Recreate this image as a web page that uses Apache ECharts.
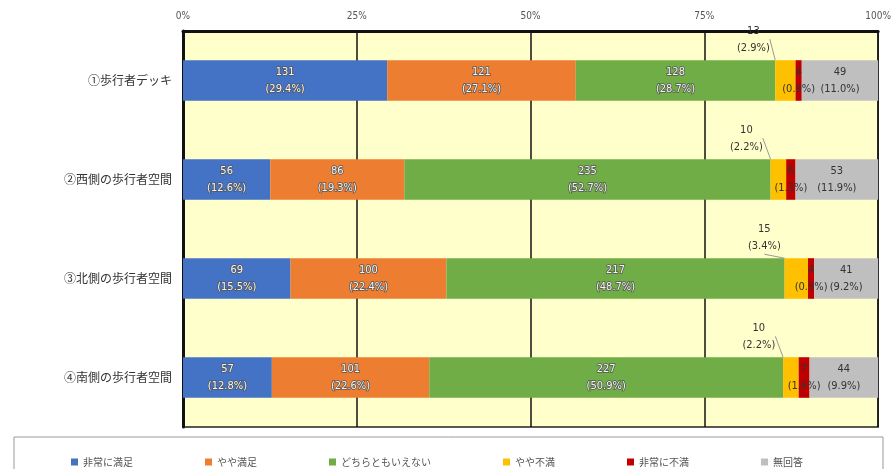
<!DOCTYPE html>
<html>
<head>
<meta charset="utf-8">
<script src="https://cdn.jsdelivr.net/npm/echarts@6/dist/echarts.min.js"></script>
<style>
  html, body { margin: 0; background: #fff; }
  #chart { width: 894px; height: 469px; }
</style>
</head>
<body>
<div id="chart"></div>
<script>
const categories = ['①歩行者デッキ', '②西側の歩行者空間', '③北側の歩行者空間', '④南側の歩行者空間'];
const seriesNames = ['非常に満足', 'やや満足', 'どちらともいえない', 'やや不満', '非常に不満', '無回答'];

// counts per category (same order as categories)
const verySatisfied = [131, 56, 69, 57];
const somewhatSatisfied = [121, 86, 100, 101];
const neutral = [128, 235, 217, 227];
const somewhatDissatisfied = [13, 10, 15, 10];
const veryDissatisfied = [4, 6, 4, 7];
const noAnswer = [49, 53, 41, 44];

const xTicks = [0, 25, 50, 75, 100];

const counts = [verySatisfied, somewhatSatisfied, neutral, somewhatDissatisfied, veryDissatisfied, noAnswer];
const colors = ['#4472C4', '#ED7D31', '#70AD47', '#FFC000', '#C00000', '#BFBFBF'];
const totals = categories.map((c, i) => counts.reduce((s, arr) => s + arr[i], 0));

const labelFont = '"Liberation Sans Narrow", "DejaVu Sans Condensed", sans-serif';

const series = counts.map((arr, k) => {
  const s = {
    name: seriesNames[k],
    type: 'bar',
    stack: 'total',
    barWidth: '41%',
    itemStyle: { color: colors[k] },
    data: arr.map((v, i) => v / totals[i] * 100),
    label: {
      show: true,
      position: 'inside',
      fontFamily: labelFont,
      fontSize: 11,
      lineHeight: 17,
      color: '#333',
      formatter: (p) => {
        const v = arr[p.dataIndex];
        return v + '\n(' + (v / totals[p.dataIndex] * 100).toFixed(1) + '%)';
      }
    }
  };
  if (k < 3) {
    // light text with dark outline on the big coloured blocks
    s.label.color = '#f4f4f4';
    s.label.textBorderColor = '#555';
    s.label.textBorderWidth = 1.5;
  }
  if (k === 3) {
    s.label.position = 'top';
    s.label.distance = 4;
    s.labelLayout = { dx: -32 };
    s.labelLine = { show: true, lineStyle: { color: '#999', width: 1 } };
  }
  return s;
});

const chart = echarts.init(document.getElementById('chart'));

chart.setOption({
  animation: false,
  backgroundColor: '#fff',
  graphic: [{
    type: 'rect',
    shape: { x: 14, y: 437, width: 869, height: 40 },
    style: { fill: 'none', stroke: '#999', lineWidth: 1 }
  }],
  legend: {
    data: seriesNames,
    top: 452,
    left: 66,
    itemGap: 72,
    itemWidth: 7,
    itemHeight: 7,
    icon: 'rect',
    textStyle: { fontFamily: '"Noto Sans CJK JP", sans-serif', fontSize: 10, color: '#555' }
  },
  grid: {
    left: 183,
    right: 11,
    top: 31,
    bottom: 42,
    show: true,
    backgroundColor: '#FFFFCC',
    borderColor: '#222',
    borderWidth: 1.5
  },
  xAxis: {
    type: 'value',
    position: 'top',
    min: xTicks[0],
    max: xTicks[xTicks.length - 1],
    interval: 25,
    axisLine: { show: true, lineStyle: { color: '#111', width: 3 } },
    axisTick: { show: false },
    axisLabel: {
      margin: 10,
      fontFamily: labelFont,
      fontSize: 10,
      color: '#555',
      formatter: '{value}%'
    },
    splitLine: { show: true, lineStyle: { color: '#111', width: 1.5 } }
  },
  yAxis: {
    type: 'category',
    inverse: true,
    data: categories,
    axisLine: { show: true, lineStyle: { color: '#111', width: 3 } },
    axisTick: { show: false },
    axisLabel: {
      margin: 11,
      fontFamily: '"Noto Sans CJK JP", sans-serif',
      fontSize: 12,
      color: '#333'
    }
  },
  series: series
});
</script>
</body>
</html>
